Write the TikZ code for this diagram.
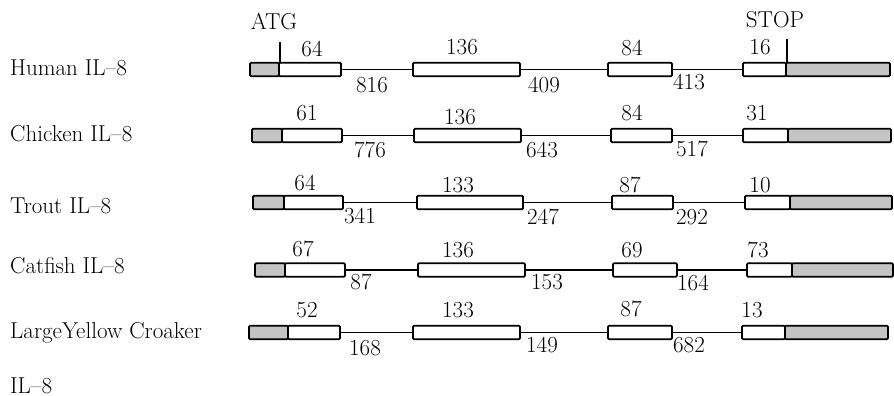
\documentclass[tikz,border=0pt]{standalone}
\usepackage{fontspec}
\setmainfont{Latin Modern Roman}
\definecolor{utrgrey}{HTML}{C4C4C4}
\tikzset{
  exon/.style={draw, line width=1.8pt, fill=white, rounded corners=1.2pt, inner sep=0pt, minimum height=13.5pt},
  utr/.style={exon, fill=utrgrey},
  intron/.style={line width=1.5pt},
  lab/.style={font=\fontsize{23}{27}\selectfont, inner sep=0pt},
  rowlab/.style={lab, anchor=base west},
  tickline/.style={line width=1.9pt}
}
\newcommand\bx[5]{\node[#5, minimum width={(#3-#2)*1pt}] (#1) at ({(#2+#3)/2},#4) {};}
\begin{document}
\begin{tikzpicture}[x=1pt,y=-1pt]
\useasboundingbox (0,0) rectangle (894,396);

% ---------- Human ----------
\bx{hg1}{250}{279}{69.5}{utr}
\bx{he1}{279}{341}{69.5}{exon}
\bx{he2}{413}{520}{69.5}{exon}
\bx{he3}{608}{672}{69.5}{exon}
\bx{he4}{743}{786}{69.5}{exon}
\bx{hg2}{786}{890}{69.5}{utr}
\draw[intron] (he1.east) -- (he2.west);
\draw[intron] (he2.east) -- (he3.west);
\draw[intron] (he3.east) -- (he4.west);
\coordinate (atgtop) at (280,42);
\coordinate (stoptop) at (787,39);
\draw[tickline] (atgtop) -- (atgtop |- he1.north);
\draw[tickline] (stoptop) -- (stoptop |- he4.north);
\node[lab] (atg) at (274,22) {ATG};
\node[lab] (stop) at (775,20) {STOP};
\node[rowlab] (hname) at (10,75) {Human IL--8};
\node[lab] (h1) at (312,49) {64};
\node[lab] (h2) at (372,85) {816};
\node[lab] (h3) at (462,47) {136};
\node[lab] (h4) at (544,85) {409};
\node[lab] (h5) at (632,48) {84};
\node[lab] (h6) at (689,82) {413};
\node[lab] (h7) at (760,47) {16};

% ---------- Chicken ----------
\bx{cg1}{252}{282}{135.5}{utr}
\bx{ce1}{282}{342}{135.5}{exon}
\bx{ce2}{414}{521}{135.5}{exon}
\bx{ce3}{611}{672}{135.5}{exon}
\bx{ce4}{743}{788}{135.5}{exon}
\bx{cg2}{788}{891}{135.5}{utr}
\draw[intron] (ce1.east) -- (ce2.west);
\draw[intron] (ce2.east) -- (ce3.west);
\draw[intron] (ce3.east) -- (ce4.west);
\node[rowlab] (cname) at (10,141) {Chicken IL--8};
\node[lab] (c1) at (307,113) {61};
\node[lab] (c2) at (370,150) {776};
\node[lab] (c3) at (460,117) {136};
\node[lab] (c4) at (542,150) {643};
\node[lab] (c5) at (632,113) {84};
\node[lab] (c6) at (692,149) {517};
\node[lab] (c7) at (757,113) {31};

% ---------- Trout ----------
\bx{tg1}{253}{284}{202.5}{utr}
\bx{te1}{284}{343}{202.5}{exon}
\bx{te2}{417}{523}{202.5}{exon}
\bx{te3}{612}{673}{202.5}{exon}
\bx{te4}{745}{790}{202.5}{exon}
\bx{tg2}{790}{892}{202.5}{utr}
\draw[intron] (te1.east) -- (te2.west);
\draw[intron] (te2.east) -- (te3.west);
\draw[intron] (te3.east) -- (te4.west);
\node[rowlab] (tname) at (10,213) {Trout IL--8};
\node[lab] (t1) at (305,183) {64};
\node[lab] (t2) at (360,216) {341};
\node[lab] (t3) at (458,185) {133};
\node[lab] (t4) at (543,217) {247};
\node[lab] (t5) at (630,185) {87};
\node[lab] (t6) at (692,217) {292};
\node[lab] (t7) at (760,185) {10};

% ---------- Catfish ----------
\bx{fg1}{255}{285}{270}{utr}
\bx{fe1}{285}{345}{270}{exon}
\bx{fe2}{418}{525}{270}{exon}
\bx{fe3}{613}{677}{270}{exon}
\bx{fe4}{747}{792}{270}{exon}
\bx{fg2}{792}{893}{270}{utr}
\draw[intron] (fe1.east) -- (fe2.west);
\draw[intron] (fe2.east) -- (fe3.west);
\draw[intron] (fe3.east) -- (fe4.west);
\node[rowlab] (fname) at (10,273) {Catfish IL--8};
\node[lab] (f1) at (303,249) {67};
\node[lab] (f2) at (361,282) {87};
\node[lab] (f3) at (458,250) {136};
\node[lab] (f4) at (547,282) {153};
\node[lab] (f5) at (632,250) {69};
\node[lab] (f6) at (693,283) {164};
\node[lab] (f7) at (758,250) {73};

% ---------- Large Yellow Croaker ----------
\bx{yg1}{249}{288}{332.5}{utr}
\bx{ye1}{288}{340}{332.5}{exon}
\bx{ye2}{413}{520}{332.5}{exon}
\bx{ye3}{608}{672}{332.5}{exon}
\bx{ye4}{742}{785}{332.5}{exon}
\bx{yg2}{785}{888}{332.5}{utr}
\draw[intron] (ye1.east) -- (ye2.west);
\draw[intron] (ye2.east) -- (ye3.west);
\draw[intron] (ye3.east) -- (ye4.west);
\node[rowlab] (yname) at (10,338) {LargeYellow Croaker};
\node[rowlab] (yname2) at (10,393) {IL--8};
\node[lab] (y1) at (307,310) {52};
\node[lab] (y2) at (365,348) {168};
\node[lab] (y3) at (458,310) {133};
\node[lab] (y4) at (542,345) {149};
\node[lab] (y5) at (631,309) {87};
\node[lab] (y6) at (689,345) {682};
\node[lab] (y7) at (752,310) {13};
\end{tikzpicture}
\end{document}
